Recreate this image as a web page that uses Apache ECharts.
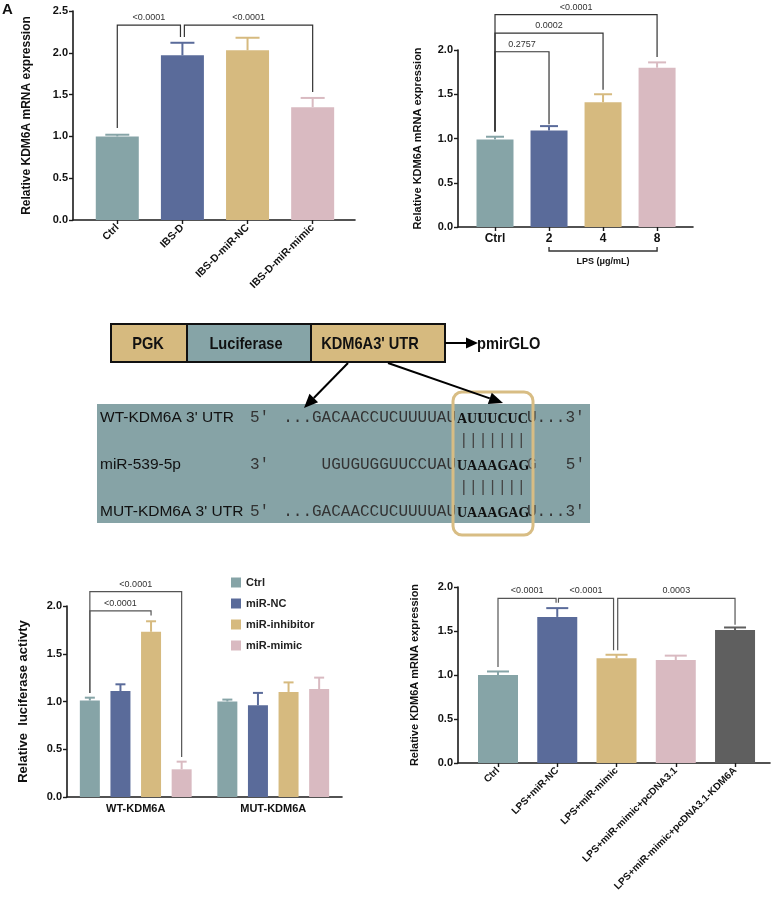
<!DOCTYPE html>
<html>
<head>
<meta charset="utf-8">
<script src="https://cdn.jsdelivr.net/npm/echarts@6/dist/echarts.min.js"></script>
<style>
  html, body { margin: 0; padding: 0; background: #fff; }
  #chart { width: 776px; height: 901px; }
</style>
</head>
<body>
<div id="chart"></div>
<script>
const TEAL = "#86A4A7", BLUE = "#5A6B9A", TAN = "#D6BA7F", PINK = "#D9BAC1", GREY = "#5F5F5F";
const FONT = '"Liberation Sans", Arial, sans-serif';

// panel A
const catsA = ["Ctrl", "IBS-D", "IBS-D-miR-NC", "IBS-D-miR-mimic"];
const meanA = [1.0, 1.97, 2.03, 1.35];
const errTopA = [1.02, 2.12, 2.18, 1.46];
const colorsA = [TEAL, BLUE, TAN, PINK];
// [x1, x2, yTop, drop at x1, drop at x2]
const bracketsA = [[0, 0.97, 2.33, 1.1, 2.19], [1.03, 3, 2.33, 2.19, 1.53]];
const pA = ["<0.0001", "<0.0001"];

// panel B
const catsB = ["Ctrl", "2", "4", "8"];
const meanB = [0.99, 1.09, 1.41, 1.80];
const errTopB = [1.02, 1.14, 1.50, 1.86];
const colorsB = [TEAL, BLUE, TAN, PINK];
const bracketsB = [[0, 1, 1.98, 1.08, 1.16], [0, 2, 2.19, 1.08, 1.55], [0, 3, 2.40, 1.08, 1.92]];
const pB = ["0.2757", "0.0002", "<0.0001"];
const lpsSpan = [[1, 3]];
const lpsLabel = "LPS (μg/mL)";

// panel D
const groupsD = ["WT-KDM6A", "MUT-KDM6A"];
const legendD = ["Ctrl", "miR-NC", "miR-inhibitor", "miR-mimic"];
const colorsD = [TEAL, BLUE, TAN, PINK];
const meanD = [[1.01, 1.00], [1.11, 0.96], [1.73, 1.10], [0.29, 1.13]];
const errTopD = [[1.04, 1.02], [1.18, 1.09], [1.84, 1.20], [0.37, 1.25]];
// [cat1, bar1, cat2, bar2, yTop, drop1, drop2]
const bracketsD = [[0, 0, 0, 3, 2.15, 1.09, 0.42], [0, 0, 0, 2, 1.95, 1.09, 1.90]];
const pD = ["<0.0001", "<0.0001"];

// panel E
const catsE = ["Ctrl", "LPS+miR-NC", "LPS+miR-mimic", "LPS+miR-mimic+pcDNA3.1", "LPS+miR-mimic+pcDNA3.1-KDM6A"];
const meanE = [1.00, 1.66, 1.19, 1.17, 1.51];
const errTopE = [1.04, 1.76, 1.23, 1.22, 1.54];
const colorsE = [TEAL, BLUE, TAN, PINK, GREY];
const bracketsE = [[0, 0.98, 1.87, 1.09, 1.82], [1.02, 1.95, 1.87, 1.82, 1.28], [2.02, 4, 1.87, 1.28, 1.57]];
const pE = ["<0.0001", "<0.0001", "0.0003"];

const BAR_D = 20, GAP_D = 0.53;
const STEP_D = BAR_D * (1 + GAP_D);

function errorBars(colors, cap) {
  return function (params, api) {
    const base = api.coord([api.value(0), api.value(1)]);
    const top = api.coord([api.value(0), api.value(2)]);
    const col = colors[params.dataIndex];
    return {
      type: "group",
      children: [
        { type: "line", shape: { x1: base[0], y1: base[1], x2: top[0], y2: top[1] }, style: { stroke: col, lineWidth: 2 } },
        { type: "line", shape: { x1: top[0] - cap / 2, y1: top[1], x2: top[0] + cap / 2, y2: top[1] }, style: { stroke: col, lineWidth: 2 } }
      ]
    };
  };
}

function bracketShape(a, b, c, d, label, color) {
  return {
    type: "group",
    children: [
      { type: "polyline", shape: { points: [a, b, c, d] }, style: { stroke: color, lineWidth: 1.2, fill: null } },
      { type: "text", style: { text: label, x: (b[0] + c[0]) / 2, y: b[1] - 3, align: "center", verticalAlign: "bottom", font: "9px " + FONT, fill: "#333" } }
    ]
  };
}

function brackets(labels, color) {
  return function (params, api) {
    const x1 = api.value(0), x2 = api.value(1), top = api.value(2);
    return bracketShape(
      api.coord([x1, api.value(3)]), api.coord([x1, top]),
      api.coord([x2, top]), api.coord([x2, api.value(4)]),
      labels[params.dataIndex], color
    );
  };
}

function xAxisValue(gridIndex, cats, min, max, label) {
  const ticks = cats.map((c, i) => i);
  return {
    type: "value", gridIndex, min, max,
    splitLine: { show: false },
    axisLine: { show: true, onZero: false, lineStyle: { color: "#1a1a1a", width: 1.6 } },
    axisTick: { show: true, customValues: ticks, length: 4, lineStyle: { color: "#1a1a1a", width: 1.4 } },
    axisLabel: Object.assign({
      customValues: ticks,
      formatter: v => cats[Math.round(v)],
      color: "#111", fontWeight: "bold", fontFamily: FONT
    }, label)
  };
}

function yAxisCfg(gridIndex, max, name, nameGap, nameSize) {
  return {
    type: "value", gridIndex, min: 0, max, interval: 0.5,
    name, nameLocation: "middle", nameGap,
    nameTextStyle: { fontWeight: "bold", fontSize: nameSize, fontFamily: FONT, color: "#111" },
    splitLine: { show: false },
    axisLine: { show: true, onZero: false, lineStyle: { color: "#1a1a1a", width: 1.6 } },
    axisTick: { show: true, length: 4, lineStyle: { color: "#1a1a1a", width: 1.4 } },
    axisLabel: { formatter: v => v.toFixed(1), fontWeight: "bold", fontSize: 11, fontFamily: FONT, color: "#111", margin: 5 }
  };
}

function barSeries(idx, means, colors, width) {
  return {
    type: "bar", xAxisIndex: idx, yAxisIndex: idx, barWidth: width,
    data: means.map((v, i) => ({ value: [i, v], itemStyle: { color: colors[i] } })),
    z: 2
  };
}

function errSeries(idx, means, tops, colors, cap) {
  return {
    type: "custom", xAxisIndex: idx, yAxisIndex: idx, z: 3,
    renderItem: errorBars(colors, cap),
    encode: { x: 0, y: [1, 2] },
    data: means.map((v, i) => [i, v, tops[i]])
  };
}

function bracketSeries(idx, list, labels, color) {
  return {
    type: "custom", xAxisIndex: idx, yAxisIndex: idx, z: 4, clip: false,
    renderItem: brackets(labels, color),
    encode: { x: [0, 1], y: 2 },
    data: list
  };
}

// ---- diagram (panel C) helpers ----
function arrow(x1, y1, x2, y2, head, width) {
  const ang = Math.atan2(y2 - y1, x2 - x1);
  const bx = x2 - head * Math.cos(ang), by = y2 - head * Math.sin(ang);
  const w = width / 2;
  return [
    { type: "line", shape: { x1, y1, x2: bx, y2: by }, style: { stroke: "#000", lineWidth: 2 } },
    { type: "polygon", shape: { points: [[x2, y2], [bx - w * Math.sin(ang), by + w * Math.cos(ang)], [bx + w * Math.sin(ang), by - w * Math.cos(ang)]] }, style: { fill: "#000" } }
  ];
}

const BOX_FONT = 'bold 17px "Liberation Sans", Arial, sans-serif';
const MONO = '16px "Liberation Mono", "Courier New", monospace';
const SERIF_B = 'bold 14px "Liberation Serif", "Times New Roman", serif';
const LAB = '15.5px ' + FONT;

function txt(x, y, text, font, fill, align, scaleX) {
  return { type: "text", x, y, scaleX: scaleX || 1, style: { text, font, fill: fill || "#111", align: align || "left", verticalAlign: "middle" } };
}

const rowsY = [418, 465, 512];
const diagram = [
  { type: "rect", shape: { x: 111, y: 324, width: 76, height: 38 }, style: { fill: TAN, stroke: "#111", lineWidth: 2 } },
  { type: "rect", shape: { x: 187, y: 324, width: 124, height: 38 }, style: { fill: TEAL, stroke: "#111", lineWidth: 2 } },
  { type: "rect", shape: { x: 311, y: 324, width: 134, height: 38 }, style: { fill: TAN, stroke: "#111", lineWidth: 2 } },
  txt(148, 344, "PGK", BOX_FONT, "#111", "center", 0.86),
  txt(246, 344, "Luciferase", BOX_FONT, "#111", "center", 0.86),
  txt(370, 344, "KDM6A3' UTR", BOX_FONT, "#111", "center", 0.86),
  ...arrow(445, 343, 478, 343, 12, 11),
  txt(477, 344, "pmirGLO", BOX_FONT, "#111", "left", 0.86),
  { type: "rect", shape: { x: 97, y: 404, width: 493, height: 119 }, style: { fill: "#86A3A6" } },
  txt(100, rowsY[0], "WT-KDM6A 3' UTR", LAB),
  txt(100, rowsY[1], "miR-539-5p", LAB),
  txt(100, rowsY[2], "MUT-KDM6A 3' UTR", LAB),
  txt(250, rowsY[0], "5'", MONO, "#333"),
  txt(456, rowsY[0], "...GACAACCUCUUUUAU", MONO, "#333", "right"),
  txt(457, rowsY[0] + 1, "AUUUCUC", SERIF_B, "#111"),
  txt(527, rowsY[0], "U...3'", MONO, "#333"),
  txt(459, 441, "|||||||", MONO, "#444"),
  txt(250, rowsY[1], "3'", MONO, "#333"),
  txt(456, rowsY[1], "UGUGUGGUUCCUAU", MONO, "#333", "right"),
  txt(457, rowsY[1] + 1, "UAAAGAG", SERIF_B, "#111"),
  txt(527, rowsY[1], "G", MONO, "#555"),
  txt(585, rowsY[1], "5'", MONO, "#333", "right"),
  txt(459, 488, "|||||||", MONO, "#444"),
  txt(250, rowsY[2], "5'", MONO, "#333"),
  txt(456, rowsY[2], "...GACAACCUCUUUUAU", MONO, "#333", "right"),
  txt(457, rowsY[2] + 1, "UAAAGAG", SERIF_B, "#111"),
  txt(527, rowsY[2], "U...3'", MONO, "#333"),
  { type: "rect", shape: { x: 453, y: 392, width: 80, height: 143, r: 9 }, style: { fill: null, stroke: "#D8BD84", lineWidth: 3 } },
  ...arrow(348, 363, 304, 408, 14, 12),
  ...arrow(388, 363, 503, 403, 14, 12),
  { type: "text", x: 2, y: 2, style: { text: "A", font: "bold 15px " + FONT, fill: "#111" } }
];

const chart = echarts.init(document.getElementById("chart"));

const option = {
  animation: false,
  backgroundColor: "#fff",
  grid: [
    { left: 73, top: 11, width: 282, height: 209 },
    { left: 458, top: 50, width: 235, height: 177 },
    { left: 67, top: 606, width: 275, height: 191 },
    { left: 458, top: 587, width: 312, height: 176 }
  ],
  legend: {
    data: legendD, orient: "vertical", left: 226, top: 572,
    icon: "rect", itemWidth: 10, itemHeight: 10, itemGap: 10,
    textStyle: { fontWeight: "bold", fontSize: 11, fontFamily: FONT, color: "#222" }
  },
  xAxis: [
    xAxisValue(0, catsA, -0.68, 3.65, { rotate: 45, fontSize: 10.5, margin: 6 }),
    xAxisValue(1, catsB, -0.685, 3.665, { fontSize: 12, margin: 6 }),
    {
      type: "category", gridIndex: 2, data: groupsD,
      axisLine: { lineStyle: { color: "#1a1a1a", width: 1.6 } },
      axisTick: { alignWithLabel: true, length: 4, lineStyle: { color: "#1a1a1a", width: 1.4 } },
      axisLabel: { fontWeight: "bold", fontSize: 11, fontFamily: FONT, color: "#111", margin: 6 }
    },
    xAxisValue(3, catsE, -0.675, 4.59, { rotate: 45, fontSize: 10, margin: 6 })
  ],
  yAxis: [
    yAxisCfg(0, 2.5, "Relative KDM6A mRNA expression", 40, 12),
    yAxisCfg(1, 2.0, "Relative KDM6A mRNA expression", 35, 11),
    yAxisCfg(2, 2.0, "Relative  luciferase activty", 37, 13),
    yAxisCfg(3, 2.0, "Relative KDM6A mRNA expression", 38, 11)
  ],
  series: [
    barSeries(0, meanA, colorsA, 43),
    errSeries(0, meanA, errTopA, colorsA, 24),
    bracketSeries(0, bracketsA, pA, "#333"),

    barSeries(1, meanB, colorsB, 37),
    errSeries(1, meanB, errTopB, colorsB, 18),
    bracketSeries(1, bracketsB, pB, "#333"),
    {
      type: "custom", xAxisIndex: 1, yAxisIndex: 1, clip: false,
      renderItem: function (params, api) {
        const a = api.coord([api.value(0), 0]);
        const b = api.coord([api.value(1), 0]);
        const y = a[1] + 24;
        return {
          type: "group",
          children: [
            { type: "polyline", shape: { points: [[a[0], y - 4], [a[0], y], [b[0], y], [b[0], y - 4]] }, style: { stroke: "#333", lineWidth: 1.4, fill: null } },
            { type: "text", style: { text: lpsLabel, x: (a[0] + b[0]) / 2, y: y + 11, align: "center", verticalAlign: "middle", font: "bold 9px " + FONT, fill: "#111" } }
          ]
        };
      },
      encode: { x: [0, 1] },
      data: lpsSpan
    },

    ...legendD.map((name, k) => ({
      name, type: "bar", xAxisIndex: 2, yAxisIndex: 2,
      barWidth: BAR_D, barGap: (GAP_D * 100) + "%",
      itemStyle: { color: colorsD[k] },
      data: meanD[k], z: 2
    })),
    {
      type: "custom", xAxisIndex: 2, yAxisIndex: 2, z: 3,
      renderItem: function (params, api) {
        const k = api.value(1);
        const off = (k - 1.5) * STEP_D;
        const base = api.coord([api.value(0), api.value(2)]);
        const top = api.coord([api.value(0), api.value(3)]);
        const x = base[0] + off, col = colorsD[k], cap = 10;
        return {
          type: "group",
          children: [
            { type: "line", shape: { x1: x, y1: base[1], x2: x, y2: top[1] }, style: { stroke: col, lineWidth: 2 } },
            { type: "line", shape: { x1: x - cap / 2, y1: top[1], x2: x + cap / 2, y2: top[1] }, style: { stroke: col, lineWidth: 2 } }
          ]
        };
      },
      encode: { x: 0, y: [2, 3] },
      data: meanD.flatMap((row, k) => row.map((v, c) => [c, k, v, errTopD[k][c]]))
    },
    {
      type: "custom", xAxisIndex: 2, yAxisIndex: 2, z: 4, clip: false,
      renderItem: function (params, api) {
        const p1 = api.coord([api.value(0), api.value(5)]);
        const p2 = api.coord([api.value(2), api.value(6)]);
        const top = api.coord([api.value(0), api.value(4)])[1];
        const x1 = p1[0] + (api.value(1) - 1.5) * STEP_D;
        const x2 = p2[0] + (api.value(3) - 1.5) * STEP_D;
        return bracketShape([x1, p1[1]], [x1, top], [x2, top], [x2, p2[1]], pD[params.dataIndex], "#555");
      },
      encode: { x: 0, y: 4 },
      data: bracketsD
    },

    barSeries(3, meanE, colorsE, 40),
    errSeries(3, meanE, errTopE, colorsE, 22),
    bracketSeries(3, bracketsE, pE, "#555")
  ],
  graphic: diagram
};

chart.setOption(option);
</script>
</body>
</html>
